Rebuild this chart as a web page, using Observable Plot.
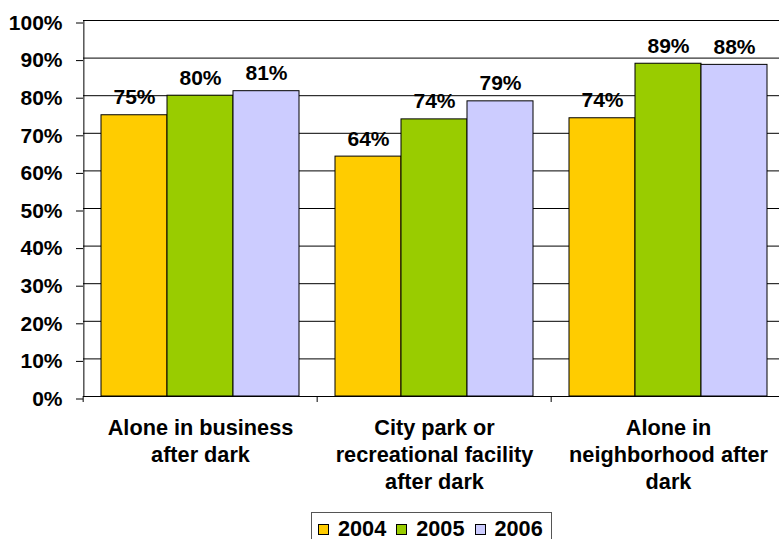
<!DOCTYPE html>
<html>
<head>
<meta charset="utf-8">
<script src="https://cdn.jsdelivr.net/npm/d3@7"></script>
<script src="https://cdn.jsdelivr.net/npm/@observablehq/plot@0.6"></script>
<style>
  html, body { margin: 0; padding: 0; background: #fff; overflow: hidden; }
  body { width: 779px; height: 539px; font-family: "Liberation Sans", Arial, sans-serif; font-weight: bold; }
  #chart { width: 779px; overflow: hidden; }
  #chart svg { display: block; max-width: none !important; }
  .legend { margin-left: 311px; display: inline-flex; box-sizing: border-box;
            border: 1px solid #555; height: 32px; padding: 4px 8px 0 6px; align-items: flex-start;
            font-size: 21.7px; line-height: 24px; color: #000; }
  .legend .item { display: inline-flex; align-items: center; height: 24px; }
  .legend .sw { width: 11px; height: 11px; box-sizing: border-box; border: 1px solid #000; margin-right: 9px; }
  .legend .item + .item { margin-left: 10px; }
</style>
</head>
<body>
<div id="chart"></div>
<div id="legend"></div>
<script>
const categories = ["Alone in business after dark", "City park or recreational facility after dark", "Alone in neighborhood after dark"];
const tickLabels = ["Alone in business\nafter dark", "City park or\nrecreational facility\nafter dark", "Alone in\nneighborhood after\ndark"];
const years = ["2004", "2005", "2006"];
const values2004 = [74.8, 63.8, 74.0];
const values2005 = [80.0, 73.7, 88.5];
const values2006 = [81.2, 78.5, 88.2];
const valueLabels2004 = ["75%", "64%", "74%"];
const valueLabels2005 = ["80%", "74%", "89%"];
const valueLabels2006 = ["81%", "79%", "88%"];
const yTicks = [0, 10, 20, 30, 40, 50, 60, 70, 80, 90, 100];
const colors = ["#FFCC00", "#99CC00", "#CCCCFF"];

const series = [values2004, values2005, values2006];
const seriesLabels = [valueLabels2004, valueLabels2005, valueLabels2006];
const data = [];
categories.forEach((c, i) => years.forEach((y, j) => data.push({category: c, year: y, value: series[j][i], label: seriesLabels[j][i]})));

const width = 787, marginLeft = 82, marginRight = 1;
const facetW = (width - marginLeft - marginRight) / categories.length;
const padOuter = 0.259;
const step = facetW / (years.length + 2 * padOuter);

const font = "'Liberation Sans', Arial, sans-serif";
const chart = Plot.plot({
  width, height: 512,
  marginLeft, marginRight, marginTop: 20, marginBottom: 116,
  style: {fontFamily: font, fontWeight: "bold", fontSize: "21px", color: "#000", background: "#fff", overflow: "visible", maxWidth: "none"},
  fx: {domain: categories, padding: 0, axis: null, label: null},
  x: {domain: years, paddingInner: 0, paddingOuter: padOuter, axis: null, label: null},
  y: {domain: [0, 100], axis: null, label: null},
  color: {domain: years, range: colors},
  marks: [
    Plot.gridY(yTicks, {stroke: "#000", strokeOpacity: 1, strokeWidth: 1}),
    Plot.barY(data, {fx: "category", x: "year", y: "value", fill: "year", stroke: "#000", strokeWidth: 1}),
    Plot.text(data, {fx: "category", x: "year", y: "value", text: "label", dy: -11, lineAnchor: "bottom", fontSize: 21, fontWeight: "bold", fill: "#000"}),
    Plot.ruleX([years[0]], {fx: () => categories[0], x: d => d, y1: 0, y2: 100, dx: -step * (0.5 + padOuter), stroke: "#000"}),
    Plot.axisY({ticks: yTicks, tickFormat: d => d + "%", label: null, tickSize: 7, tickPadding: 14, fontSize: 21, fontWeight: "bold", dy: 2.5, stroke: "#000"}),
    Plot.axisFx({anchor: "bottom", label: null, tickSize: 6, tickFormat: () => "", dx: -facetW / 2, stroke: "#000"}),
    Plot.axisFx({anchor: "bottom", label: null, tickSize: 0, tickPadding: 19, tickFormat: d => tickLabels[categories.indexOf(d)], lineHeight: 1.244, fontSize: 21.7, fontWeight: "bold"})
  ]
});
document.getElementById("chart").append(chart);

const legend = document.createElement("div");
legend.className = "legend";
years.forEach((y, i) => {
  const item = document.createElement("span");
  item.className = "item";
  const sw = document.createElement("span");
  sw.className = "sw";
  sw.style.background = colors[i];
  item.append(sw, document.createTextNode(y));
  legend.append(item);
});
document.getElementById("legend").append(legend);
</script>
</body>
</html>
